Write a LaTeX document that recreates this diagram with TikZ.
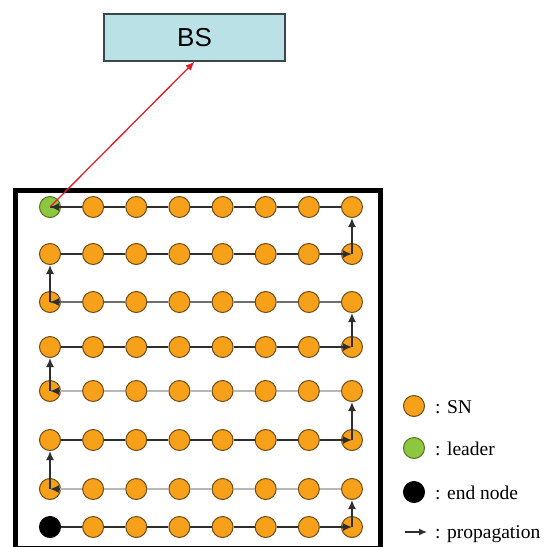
\documentclass[tikz,border=0pt]{standalone}
\usepackage{fontspec}
\setmainfont{Liberation Serif}
\newfontfamily\bsfont{Liberation Sans}
\usetikzlibrary{arrows.meta,calc}
\definecolor{snorange}{HTML}{F7A11A}
\definecolor{snedge}{HTML}{6E4C1C}
\definecolor{leadgreen}{HTML}{8DC63F}
\definecolor{leadedge}{HTML}{557322}
\definecolor{bsfill}{HTML}{B9E1E6}
\definecolor{bsedge}{HTML}{3C4648}
\definecolor{darkline}{HTML}{2E2E2E}
\definecolor{midline}{HTML}{6E6E6E}
\definecolor{lightline}{HTML}{B8B8B8}
\definecolor{redarrow}{HTML}{E0202A}
\begin{document}
\begin{tikzpicture}[x=1pt,y=-1pt,
  sn/.style={circle,draw=snedge,fill=snorange,line width=1pt,minimum size=21pt,inner sep=0pt},
  leader/.style={circle,draw=leadedge,fill=leadgreen,line width=1pt,minimum size=21pt,inner sep=0pt},
  endnode/.style={circle,draw=black,fill=black,line width=1pt,minimum size=21pt,inner sep=0pt},
  tipa/.style={darkline,line width=1.6pt,-{Latex[length=9pt,width=8pt]}},
  legtext/.style={anchor=base west,inner sep=0pt,font=\fontsize{19.5}{22}\selectfont},
  bsbox/.style={draw=bsedge,fill=bsfill,line width=1.4pt,minimum width=181pt,minimum height=47pt,inner sep=0pt,font=\bsfont\fontsize{26}{30}\selectfont}
]
\useasboundingbox (0,0) rectangle (546,547);
\fill[white] (0,0) rectangle (546,547);

% frame
\draw[line width=5pt] (15,548.5) rectangle (380,190);

% BS
\node[bsbox] (bs) at (194.5,37.5) {BS};

% grid nodes
\foreach \yy [count=\r] in {207,254,302,347,391,440,489,527} {
  \foreach \c in {1,...,8} {
    \def\st{sn}
    \ifnum\r=1 \ifnum\c=1 \def\st{leader}\fi\fi
    \ifnum\r=8 \ifnum\c=1 \def\st{endnode}\fi\fi
    \node[\st] (n\r-\c) at ({50+(\c-1)*43.14},\yy) {};
  }
}

% rows going right: 2,4,6,8 (dark)
\foreach \r in {2,4,6,8} {
  \foreach \c [evaluate=\c as \d using int(\c+1)] in {1,...,6} {
    \draw[darkline,line width=1.6pt] (n\r-\c) -- (n\r-\d);
  }
  \draw[tipa] (n\r-7) -- (n\r-8.center);
}
% rows going left: 1 (dark), 3 (mid), 5,7 (light)
\foreach \r/\col in {1/darkline,3/midline,5/lightline,7/lightline} {
  \foreach \c [evaluate=\c as \d using int(\c-1)] in {8,7,...,3} {
    \draw[\col,line width=1.5pt] (n\r-\c) -- (n\r-\d);
  }
  \draw[\col,line width=1.5pt] (n\r-2) -- (n\r-1.center);
  \draw[tipa] ($(n\r-1.center)+(9.5,0)$) -- (n\r-1.center);
}

% vertical arrows
\draw[tipa] (n8-8.center) -- (n7-8);
\draw[tipa] (n7-1.center) -- (n6-1);
\draw[tipa] (n6-8.center) -- (n5-8);
\draw[tipa] (n5-1.center) -- (n4-1);
\draw[tipa] (n4-8.center) -- (n3-8);
\draw[tipa] (n3-1.center) -- (n2-1);
\draw[tipa] (n2-8.center) -- (n1-8);

% to BS
\draw[redarrow,line width=1.3pt,-{Latex[length=9pt,width=7.5pt]}] (n1-1.center) -- (bs.south);

% legend
\node[sn] (lsn) at (414,406) {};
\node[leader] (lld) at (414,448) {};
\node[endnode] (len) at (414,492) {};
\coordinate (la) at (405,532);
\coordinate (lb) at (427,532);
\draw[darkline,line width=1.3pt,-{Latex[length=8pt,width=7pt]}] (la) -- (lb);
\node[legtext] (tsn) at (435,413) {: SN};
\node[legtext] (tld) at (435,455) {: leader};
\node[legtext] (ten) at (435,499) {: end node};
\node[legtext] (tpr) at (435,538.5) {: propagation};
\end{tikzpicture}
\end{document}
